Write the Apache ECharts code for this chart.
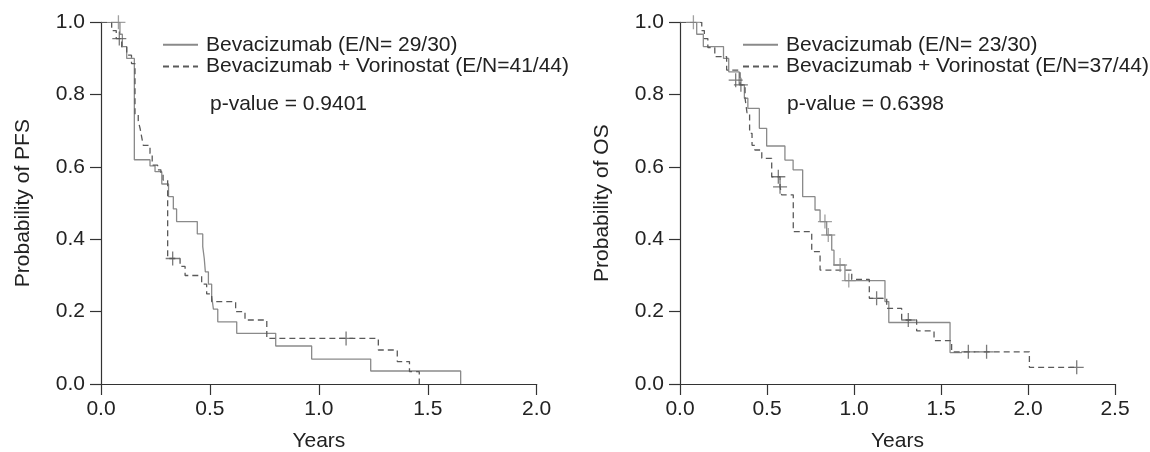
<!DOCTYPE html>
<html>
<head>
<meta charset="utf-8">
<script src="https://cdn.jsdelivr.net/npm/echarts@6/dist/echarts.min.js"></script>
<style>html,body{margin:0;padding:0;background:#fff}#c{width:1150px;height:452px}</style>
</head>
<body>
<div id="c"></div>
<script>
// ---- Data (years, survival probability) ----
const pfsBev = [[0,1],[0.087,0.967],[0.098,0.933],[0.118,0.9],[0.153,0.62],[0.225,0.603],[0.248,0.587],[0.279,0.553],[0.31,0.518],[0.332,0.484],[0.347,0.449],[0.442,0.415],[0.467,0.38],[0.474,0.347],[0.479,0.31],[0.493,0.276],[0.508,0.243],[0.516,0.207],[0.536,0.172],[0.623,0.14],[0.802,0.105],[0.967,0.069],[1.238,0.036],[1.651,0]];
const pfsBevVor = [[0,1],[0.049,0.977],[0.07,0.955],[0.095,0.932],[0.118,0.909],[0.14,0.886],[0.156,0.744],[0.171,0.727],[0.18,0.705],[0.187,0.682],[0.194,0.66],[0.225,0.637],[0.235,0.605],[0.26,0.592],[0.275,0.582],[0.285,0.564],[0.306,0.347],[0.363,0.325],[0.386,0.3],[0.462,0.276],[0.485,0.249],[0.508,0.228],[0.618,0.2],[0.661,0.177],[0.761,0.126],[1.273,0.094],[1.36,0.062],[1.416,0.034],[1.461,0]];
const pfsBevCens = [[0.08,1.0]];
const pfsBevVorCens = [[0.084,0.955],[0.329,0.347],[1.125,0.126]];

const osBev = [[0,1],[0.096,0.967],[0.134,0.933],[0.25,0.9],[0.28,0.863],[0.34,0.827],[0.37,0.79],[0.39,0.762],[0.456,0.707],[0.498,0.658],[0.603,0.619],[0.65,0.592],[0.705,0.518],[0.776,0.481],[0.805,0.449],[0.843,0.412],[0.872,0.37],[0.885,0.329],[0.948,0.286],[1.178,0.228],[1.2,0.17],[1.552,0.087],[1.62,0.087]];
const osBevVor = [[0,1],[0.125,0.977],[0.14,0.955],[0.16,0.93],[0.2,0.905],[0.268,0.868],[0.345,0.827],[0.374,0.79],[0.385,0.75],[0.4,0.693],[0.414,0.66],[0.43,0.647],[0.47,0.624],[0.527,0.573],[0.575,0.545],[0.584,0.523],[0.651,0.421],[0.757,0.366],[0.805,0.315],[0.987,0.289],[1.088,0.237],[1.188,0.209],[1.274,0.177],[1.36,0.147],[1.46,0.12],[1.561,0.089],[2.008,0.046],[2.28,0.046]];
const osBevCens = [[0.077,1.0],[0.833,0.449],[0.852,0.412],[0.92,0.329],[0.97,0.286]];
const osBevVorCens = [[0.32,0.84],[0.35,0.827],[0.565,0.573],[0.575,0.545],[1.13,0.237],[1.312,0.177],[1.657,0.089],[1.762,0.089],[2.28,0.046]];

const namesPFS = ['Bevacizumab (E/N= 29/30)', 'Bevacizumab + Vorinostat (E/N=41/44)'];
const namesOS = ['Bevacizumab (E/N= 23/30)', 'Bevacizumab + Vorinostat (E/N=37/44)'];
const pValues = ['p-value = 0.9401', 'p-value = 0.6398'];
const yNames = ['Probability of PFS', 'Probability of OS'];
const xName = 'Years';
const xMax = [2.0, 2.5];

// ---- Styles ----
const FONT = '"Liberation Sans", Arial, Helvetica, sans-serif';
const FS = 21;
const TXT = '#222';
const AX = '#333';
const C_SOLID = '#8a8a8a';
const C_DASH = '#5a5a5a';
const PLUS = 'path://M0,6L12,6M6,0L6,12';

const grids = [
  {left: 101, top: 22.3, width: 435.7, height: 361.7, outerBoundsMode:'none', containLabel:false},
  {left: 680, top: 22.3, width: 435, height: 361.7, outerBoundsMode:'none', containLabel:false}
];

function xAxisOf(i){
  return {type:'value', gridIndex:i, min:0, max:xMax[i], interval:0.5,
    name:xName, nameLocation:'middle', nameGap:47,
    nameTextStyle:{fontFamily:FONT, fontSize:FS, color:TXT},
    axisLine:{show:true, lineStyle:{color:AX, width:1.2}},
    axisTick:{show:true, length:11, lineStyle:{color:AX, width:1.2}},
    axisLabel:{fontFamily:FONT, fontSize:FS, color:TXT, margin:15, formatter:v=>v.toFixed(1)},
    splitLine:{show:false}};
}
function yAxisOf(i){
  return {type:'value', gridIndex:i, min:0, max:1, interval:0.2,
    name:yNames[i], nameLocation:'middle', nameGap:67,
    nameTextStyle:{fontFamily:FONT, fontSize:FS, color:TXT},
    axisLine:{show:true, lineStyle:{color:AX, width:1.2}},
    axisTick:{show:true, length:11, lineStyle:{color:AX, width:1.2}},
    axisLabel:{fontFamily:FONT, fontSize:FS, color:TXT, margin:16, formatter:v=>v.toFixed(1)},
    splitLine:{show:false}};
}
function stepSeries(name, data, i, color, dashed){
  return {type:'line', name, data, xAxisIndex:i, yAxisIndex:i, step:'end',
    symbol:'none', showSymbol:false, color,
    lineStyle:{color, width:1.3, type: dashed ? [6,4] : 'solid'}, silent:true};
}
function censSeries(data, i, color){
  return {type:'scatter', name:'cens'+i+color, data, xAxisIndex:i, yAxisIndex:i,
    symbol:PLUS, symbolSize:14,
    itemStyle:{color:'transparent', borderColor:color, borderWidth:1.3}, silent:true, z:3};
}
function legendOf(i, names, left){
  return {data:names.map(n=>({name:n})), orient:'vertical', left:left, top:34,
    itemWidth:35, itemHeight:10, itemGap:0, padding:0, selectedMode:false,
    itemStyle:{opacity:0},
    textStyle:{fontFamily:FONT, fontSize:FS, color:TXT, lineHeight:21.7, padding:[0,0,0,3]}};
}

const chart = echarts.init(document.getElementById('c'), null, {renderer:'canvas'});
chart.setOption({
  animation:false,
  grid: grids,
  xAxis:[xAxisOf(0), xAxisOf(1)],
  yAxis:[yAxisOf(0), yAxisOf(1)],
  legend:[legendOf(0, namesPFS, 162), legendOf(1, namesOS, 742)],
  graphic:[
    {type:'text', left:210, top:94, style:{text:pValues[0], font:FS+'px '+FONT, fill:TXT}},
    {type:'text', left:787, top:94, style:{text:pValues[1], font:FS+'px '+FONT, fill:TXT}}
  ],
  series:[
    stepSeries(namesPFS[0], pfsBev, 0, C_SOLID, false),
    stepSeries(namesPFS[1], pfsBevVor, 0, C_DASH, true),
    censSeries(pfsBevCens, 0, C_SOLID),
    censSeries(pfsBevVorCens, 0, C_DASH),
    stepSeries(namesOS[0], osBev, 1, C_SOLID, false),
    stepSeries(namesOS[1], osBevVor, 1, C_DASH, true),
    censSeries(osBevCens, 1, C_SOLID),
    censSeries(osBevVorCens, 1, C_DASH)
  ]
});
</script>
</body>
</html>
